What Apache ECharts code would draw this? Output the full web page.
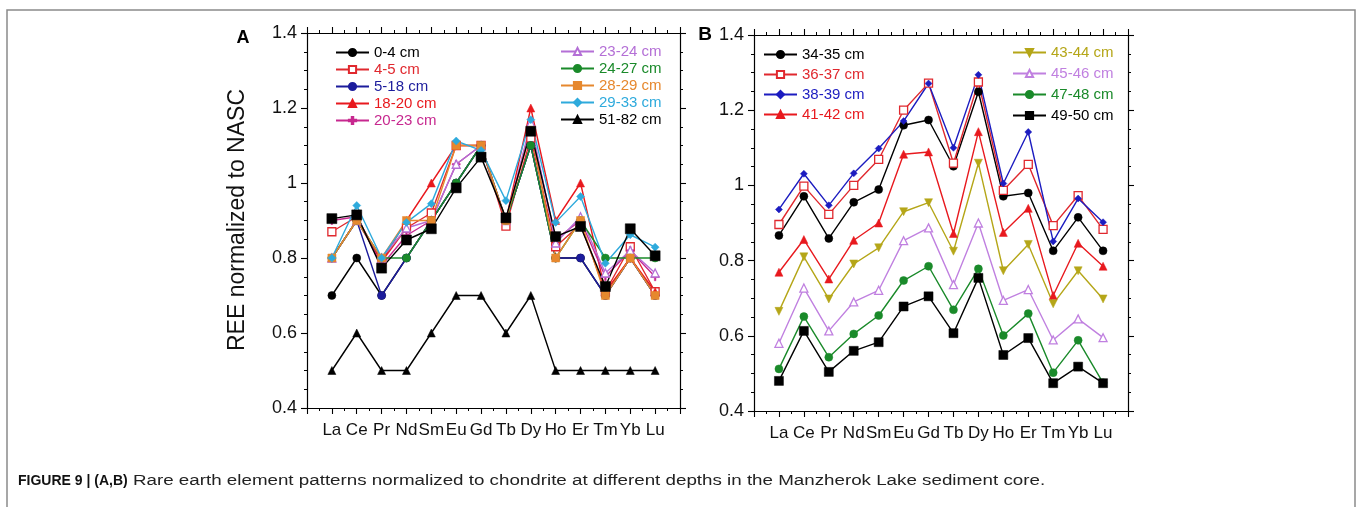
<!DOCTYPE html>
<html>
<head>
<meta charset="utf-8">
<script src="https://cdn.jsdelivr.net/npm/echarts@6/dist/echarts.min.js"></script>
<style>
  html, body { margin: 0; padding: 0; background: #fff; }
  #chart { width: 1358px; height: 507px; }
</style>
</head>
<body>
<div id="chart"></div>
<script>
// Rare earth elements, plotted at positions 1..14 of each panel
const elements = ['La','Ce','Pr','Nd','Sm','Eu','Gd','Tb','Dy','Ho','Er','Tm','Yb','Lu'];
const yTicks = [0.4, 0.6, 0.8, 1.0, 1.2, 1.4];

// Panel A: upper part of the core
const a_0_4   = [0.70, 0.80, 0.70, 0.80, 0.90, 1.00, 1.10, 0.90, 1.10, 0.80, 0.80, 0.70, 0.80, 0.70];
const a_4_5   = [0.87, 0.91, 0.79, 0.88, 0.92, 1.10, 1.10, 0.885, 1.12, 0.83, 0.89, 0.71, 0.83, 0.71];
const a_5_18  = [0.80, 0.90, 0.70, 0.80, 0.90, 1.00, 1.10, 0.90, 1.10, 0.80, 0.80, 0.70, 0.80, 0.70];
const a_18_20 = [0.80, 0.90, 0.79, 0.90, 1.00, 1.10, 1.10, 0.90, 1.20, 0.90, 1.00, 0.71, 0.80, 0.71];
const a_20_23 = [0.90, 0.91, 0.78, 0.86, 0.90, 1.05, 1.10, 0.90, 1.15, 0.85, 0.90, 0.75, 0.82, 0.75];
const a_23_24 = [0.80, 0.90, 0.80, 0.88, 0.90, 1.05, 1.10, 0.90, 1.16, 0.84, 0.91, 0.76, 0.82, 0.76];
const a_24_27 = [0.80, 0.90, 0.80, 0.80, 0.90, 1.00, 1.10, 0.90, 1.10, 0.80, 0.90, 0.80, 0.80, 0.80];
const a_28_29 = [0.80, 0.90, 0.80, 0.90, 0.90, 1.10, 1.10, 0.90, 1.14, 0.80, 0.90, 0.70, 0.80, 0.70];
const a_29_33 = [0.80, 0.94, 0.80, 0.895, 0.945, 1.112, 1.087, 0.953, 1.169, 0.895, 0.964, 0.786, 0.862, 0.829];
const a_51_82 = [0.50, 0.60, 0.50, 0.50, 0.60, 0.70, 0.70, 0.60, 0.70, 0.50, 0.50, 0.50, 0.50, 0.50];
const a_mean  = [0.905, 0.915, 0.773, 0.848, 0.878, 0.987, 1.069, 0.907, 1.138, 0.857, 0.884, 0.724, 0.878, 0.806];

// Panel B: lower part of the core
const b_34_35 = [0.867, 0.971, 0.859, 0.955, 0.989, 1.160, 1.174, 1.051, 1.249, 0.971, 0.980, 0.826, 0.915, 0.826];
const b_36_37 = [0.896, 0.998, 0.923, 1.000, 1.069, 1.200, 1.272, 1.059, 1.275, 0.987, 1.056, 0.893, 0.973, 0.883];
const b_38_39 = [0.936, 1.031, 0.947, 1.032, 1.098, 1.171, 1.271, 1.100, 1.294, 1.005, 1.142, 0.851, 0.965, 0.902];
const b_41_42 = [0.769, 0.856, 0.751, 0.854, 0.900, 1.083, 1.089, 0.872, 1.143, 0.875, 0.939, 0.707, 0.846, 0.785];
const b_43_44 = [0.665, 0.810, 0.698, 0.791, 0.834, 0.930, 0.954, 0.825, 1.059, 0.773, 0.843, 0.685, 0.773, 0.698];
const b_45_46 = [0.580, 0.727, 0.613, 0.690, 0.721, 0.853, 0.887, 0.736, 0.900, 0.694, 0.723, 0.589, 0.645, 0.595];
const b_47_48 = [0.512, 0.651, 0.543, 0.605, 0.654, 0.747, 0.785, 0.669, 0.778, 0.601, 0.659, 0.502, 0.588, 0.475];
const b_49_50 = [0.480, 0.613, 0.504, 0.560, 0.583, 0.678, 0.705, 0.607, 0.754, 0.549, 0.594, 0.474, 0.518, 0.474];

const FONT = 'Liberation Sans, Arial, Helvetica, sans-serif';
const PLUS = 'path://M4,0h2v4h4v2h-4v4h-2v-4h-4v-2h4z';
const DOWN = 'path://M0,0L10,0L5,9Z';

function line(name, values, color, symbol, size, panel, hollow) {
  return {
    name: name,
    type: 'line',
    xAxisIndex: panel * 2,
    yAxisIndex: panel * 2,
    data: values.map((v, i) => [i + 1, v]),
    symbol: symbol,
    symbolSize: size,
    showAllSymbol: true,
    lineStyle: { color: color, width: 1.4 },
    itemStyle: hollow
      ? { color: '#fff', borderColor: color, borderWidth: 1.3 }
      : { color: color, borderColor: color, borderWidth: 0.5 },
    emphasis: { disabled: true },
    animation: false
  };
}

const seriesA = [
  line('0-4 cm',   a_0_4,   '#000000', 'circle', 8, 0),
  line('4-5 cm',   a_4_5,   '#e0282e', 'rect', 8, 0, true),
  line('5-18 cm',  a_5_18,  '#1c1c9c', 'circle', 8, 0),
  line('18-20 cm', a_18_20, '#e8191e', 'triangle', 8, 0),
  line('20-23 cm', a_20_23, '#c7288f', PLUS, 8, 0),
  line('23-24 cm', a_23_24, '#b46fd6', 'triangle', 8, 0, true),
  line('24-27 cm', a_24_27, '#1a8a2a', 'circle', 8, 0),
  line('28-29 cm', a_28_29, '#e6882e', 'rect', 8, 0),
  line('29-33 cm', a_29_33, '#2eaadc', 'diamond', 8, 0),
  line('51-82 cm', a_51_82, '#000000', 'triangle', 8, 0),
  line('mean',     a_mean,  '#000000', 'rect', 10, 0)
];

const seriesB = [
  line('34-35 cm', b_34_35, '#000000', 'circle', 8, 1),
  line('36-37 cm', b_36_37, '#e0282e', 'rect', 8, 1, true),
  line('38-39 cm', b_38_39, '#1c1cc0', 'diamond', 7, 1),
  line('41-42 cm', b_41_42, '#e8191e', 'triangle', 8, 1),
  line('43-44 cm', b_43_44, '#b5a618', DOWN, 8, 1),
  line('45-46 cm', b_45_46, '#c080e0', 'triangle', 8, 1, true),
  line('47-48 cm', b_47_48, '#1a8a2a', 'circle', 8, 1),
  line('49-50 cm', b_49_50, '#000000', 'rect', 9, 1)
];

const colorOf = {};
seriesA.concat(seriesB).forEach(s => { colorOf[s.name] = s.lineStyle.color; });

function legend(names, left, top, gap) {
  return {
    left: left, top: top, orient: 'vertical', padding: 0,
    itemWidth: 33, itemHeight: 9, itemGap: gap,
    selectedMode: false,
    textStyle: { fontFamily: FONT, fontSize: 15, lineHeight: 15 },
    data: names.map(n => ({ name: n, textStyle: { color: colorOf[n] } }))
  };
}

const axisCommon = {
  axisLine: { onZero: false, lineStyle: { color: '#000', width: 1.2 } },
  axisTick: { show: true, inside: false, length: 6, lineStyle: { color: '#000', width: 1.1 } },
  minorTick: { show: true, length: 3, lineStyle: { color: '#000', width: 1 } },
  splitLine: { show: false }
};

function xAxes(grid) {
  const base = Object.assign({}, axisCommon, {
    type: 'value', gridIndex: grid, min: 0, max: 15, interval: 1,
    minorTick: Object.assign({}, axisCommon.minorTick, { splitNumber: 2 })
  });
  return [
    Object.assign({}, base, {
      position: 'bottom',
      axisLabel: {
        margin: 14, color: '#111', fontFamily: FONT, fontSize: 17,
        formatter: v => (v >= 1 && v <= elements.length ? elements[v - 1] : '')
      }
    }),
    Object.assign({}, base, { position: 'top', axisLabel: { show: false } })
  ];
}

function yAxes(grid) {
  const base = Object.assign({}, axisCommon, {
    type: 'value', gridIndex: grid,
    min: yTicks[0], max: yTicks[yTicks.length - 1], interval: 0.2,
    minorTick: Object.assign({}, axisCommon.minorTick, { splitNumber: 4 })
  });
  return [
    Object.assign({}, base, {
      position: 'left',
      axisLabel: {
        margin: 10, color: '#111', fontFamily: FONT, fontSize: 18,
        formatter: v => String(+v.toFixed(1))
      }
    }),
    Object.assign({}, base, { position: 'right', axisLabel: { show: false } })
  ];
}

const chart = echarts.init(document.getElementById('chart'), null, { renderer: 'canvas' });
chart.setOption({
  backgroundColor: '#ffffff',
  animation: false,
  grid: [
    { left: 307, top: 33, width: 373, height: 375 },
    { left: 754, top: 35, width: 374, height: 376 }
  ],
  xAxis: xAxes(0).concat(xAxes(1)),
  yAxis: yAxes(0).concat(yAxes(1)),
  legend: [
    legend(['0-4 cm', '4-5 cm', '5-18 cm', '18-20 cm', '20-23 cm'], 335, 45, 2),
    legend(['23-24 cm', '24-27 cm', '28-29 cm', '29-33 cm', '51-82 cm'], 560, 44, 2),
    legend(['34-35 cm', '36-37 cm', '38-39 cm', '41-42 cm'], 763, 47, 5),
    legend(['43-44 cm', '45-46 cm', '47-48 cm', '49-50 cm'], 1012, 45, 6)
  ],
  series: seriesA.concat(seriesB),
  graphic: [
    {
      type: 'rect', silent: true,
      shape: { x: 7, y: 10, width: 1348, height: 520 },
      style: { fill: 'none', stroke: '#8a8a8a', lineWidth: 1.5 }
    },
    {
      type: 'text', x: 243, y: 38, silent: true,
      style: { text: 'A', fontFamily: FONT, fontSize: 18, fontWeight: 'bold', fill: '#000',
               textAlign: 'center', textVerticalAlign: 'middle' }
    },
    {
      type: 'text', x: 705, y: 35, silent: true,
      style: { text: 'B', fontFamily: FONT, fontSize: 19, fontWeight: 'bold', fill: '#000',
               textAlign: 'center', textVerticalAlign: 'middle' }
    },
    {
      type: 'text', x: 238, y: 220, rotation: Math.PI / 2, silent: true,
      style: { text: 'REE normalized to NASC', fontFamily: FONT, fontSize: 23, fill: '#111',
               textAlign: 'center', textVerticalAlign: 'middle' }
    },
    {
      type: 'text', x: 18, y: 481, silent: true,
      style: { text: 'FIGURE 9 | (A,B)', fontFamily: FONT, fontSize: 14, fontWeight: 'bold',
               fill: '#111', textVerticalAlign: 'middle' }
    },
    {
      // caption body set in a wide face, stretched horizontally
      type: 'text', x: 133, y: 481, scaleX: 1.34, silent: true,
      style: { text: 'Rare earth element patterns normalized to chondrite at different depths in the Manzherok Lake sediment core.',
               fontFamily: FONT, fontSize: 14, fill: '#222', textVerticalAlign: 'middle' }
    }
  ]
});
</script>
</body>
</html>
